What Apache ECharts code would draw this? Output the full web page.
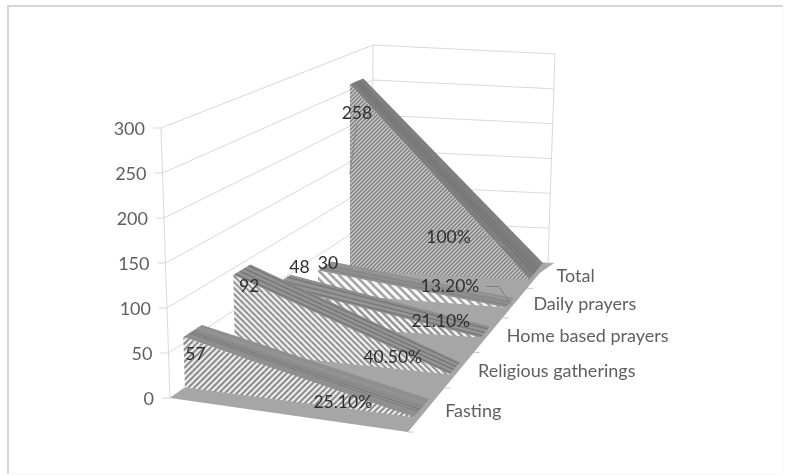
<!DOCTYPE html>
<html><head><meta charset="utf-8">
<script src="https://cdn.jsdelivr.net/npm/echarts@6/dist/echarts.min.js"></script>
<style>html,body{margin:0;padding:0;background:#fff}#c{width:786px;height:476px;filter:blur(0.55px)}</style>
</head><body><div id="c"></div>
<script>
// ---- data
const categories = ['Fasting', 'Religious gatherings', 'Home based prayers', 'Daily prayers', 'Total'];
const counts = [57, 92, 48, 30, 258];
const shares = [25.1, 40.5, 21.1, 13.2, 100];
const countLabels = ['57', '92', '48', '30', '258'];
const shareLabels = ['25.10%', '40.50%', '21.10%', '13.20%', '100%'];
const yTicks = [0, 50, 100, 150, 200, 250, 300];

// ---- 3D box layout (pixels of the projected floor and walls)
const corners = { A: [170, 398], B: [408, 432], C: [548, 263], D: [372, 255] };
const heights = { A: 270, B: 270, C: 209, D: 210 };
const lean = { A: -9, B: 0, C: 7, D: 1 };
// depth of each area band along the left and right floor edges
const frontL = [.074, .322, .52, .733, .891], backL = [.165, .406, .60, .80, .955];
const frontR = [.083, .337, .556, .734, .90], backR = [.19, .408, .62, .79, .995];
const AREA_END = .975; // the areas stop just short of the floor's right edge
const catTicks = [0, .26, .47, .675, .85, 1];
const catMid = [.13, .365, .57, .76, .925];
const countOff = [[12, 17], [16, 11], [25, -18], [10, -7], [7, 29]];
const shareOff = [[-71, -15], [-57, -17], [-40, -16], [-56, -21], [-81, -42]];
// hatch: [period, stroke share, dark colour, light colour, direction]
const hatch = [
  [6, .5, '#8e8e8e', '#eeeeee', 1], [6, .5, '#969696', '#f0f0f0', -1],
  [7, .5, '#969696', '#f4f4f4', -1], [8, .45, '#a3a3a3', '#fafafa', -1], [4, .55, '#808080', '#cccccc', 1]];
const ridgeBase = ['#8f8f8f', '#8c8c8c', '#8e8e8e', '#909090', '#7f7f7f'];
const streaks = [
  [[.3, '#7c7c7c'], [.42, '#767676'], [.55, '#838383'], [.75, '#9a9a9a']],
  [[.12, '#737373'], [.25, '#9c9c9c'], [.38, '#707070'], [.5, '#9a9a9a'], [.62, '#707070'], [.75, '#989898'], [.88, '#737373']],
  [[.15, '#727272'], [.3, '#9c9c9c'], [.45, '#747474'], [.6, '#9a9a9a'], [.78, '#727272']],
  [[.25, '#7f7f7f'], [.55, '#848484'], [.8, '#9c9c9c']],
  [[.35, '#6e6e6e'], [.5, '#6a6a6a'], [.65, '#707070']]];
const FLOOR = '#a6a6a6', GRID = '#d9d9d9', AXIS_TEXT = '#5f5f5f', DATA_TEXT = '#2f2f2f';
const FONT = 'Lato, "Open Sans", sans-serif';

function tile(p) {
  const s = p[0], c = document.createElement('canvas');
  c.width = c.height = s;
  const g = c.getContext('2d');
  g.fillStyle = p[3]; g.fillRect(0, 0, s, s);
  g.strokeStyle = p[2]; g.lineWidth = s * p[1] * Math.SQRT1_2;
  for (let k = -1; k <= 1; k++) {
    g.beginPath();
    if (p[4] > 0) { g.moveTo(k * s - 2, s + 2); g.lineTo(k * s + s + 2, -2); }
    else { g.moveTo(k * s - 2, -2); g.lineTo(k * s + s + 2, s + 2); }
    g.stroke();
  }
  return { image: c, repeat: 'repeat' };
}
const patterns = hatch.map(tile);

function bil(a, b, c, d, u, t) { // a front-left, b front-right, c back-right, d back-left
  return (a * (1 - u) + b * u) * (1 - t) + (d * (1 - u) + c * u) * t;
}
function project(u, t, f) {
  const { A, B, C, D } = corners;
  return [
    bil(A[0], B[0], C[0], D[0], u, t) + f * bil(lean.A, lean.B, lean.C, lean.D, u, t),
    bil(A[1], B[1], C[1], D[1], u, t) - f * bil(heights.A, heights.B, heights.C, heights.D, u, t)
  ];
}
// scale readers: data value -> share of axis, through the chart's own axes
function fracOf(api, v) {
  const y0 = api.coord([0, 0])[1], y1 = api.coord([0, 300])[1];
  return (y0 - api.coord([0, v])[1]) / (y0 - y1);
}
function uOf(api, x) {
  const x0 = api.coord([0, 0])[0], x1 = api.coord([1, 0])[0];
  return (api.coord([x, 0])[0] - x0) / (x1 - x0);
}
const line = (pts, color, w, z) => ({ type: 'polyline', shape: { points: pts }, style: { stroke: color, lineWidth: w || 1, fill: null }, silent: true, z2: z || 0 });
const poly = (pts, fill) => ({ type: 'polygon', shape: { points: pts }, style: { fill: fill }, silent: true });
const text = (x, y, s, color, align, size) => ({ type: 'text', x: x, y: y, style: { text: s, fill: color, font: size + 'px ' + FONT, align: align || 'center', verticalAlign: 'middle' }, silent: true, z2: 5 });

function renderWalls(params, api) {
  const ch = [];
  const u0 = uOf(api, 0), u1 = uOf(api, 1);
  yTicks.forEach(v => {
    const f = fracOf(api, v);
    ch.push(line([project(u0, 0, f), project(u0, 1, f), project(u1, 1, f)], GRID));
    const p = project(u0, 0, f);
    ch.push(line([[p[0] - 8, p[1]], p], GRID));
    ch.push(text(p[0] - 16, p[1] + 1, String(v), AXIS_TEXT, 'right', 18));
  });
  [[u0, 0], [u0, 1], [u1, 1]].forEach(q => ch.push(line([project(q[0], q[1], 0), project(q[0], q[1], 1)], GRID)));
  const fl = [project(u0, 0, 0), project(u1, 0, 0), project(u1, 1, 0), project(u0, 1, 0)];
  ch.push(poly(fl, FLOOR));
  const tip = project(u1, 1, 0);
  ch.push(poly([[tip[0] - 14, tip[1] + 14], tip, [tip[0] + 6, tip[1]]], FLOOR));
  catTicks.forEach(t => { const p = project(u1, t, 0); ch.push(line([p, [p[0] + 6, p[1]]], '#c9c9c9')); });
  categories.forEach((c, i) => { const p = project(u1, catMid[i], 0); ch.push(text(p[0] + 19, p[1] + 1, c, AXIS_TEXT, 'left', 18)); });
  return { type: 'group', children: ch };
}

function renderArea(i) {
  return function (params, api) {
    const f0 = fracOf(api, api.value(0)), f1 = fracOf(api, api.value(1));
    const u0 = uOf(api, 0), u1 = uOf(api, AREA_END);
    const ch = [];
    const lerp = (a, b, k) => a + (b - a) * k;
    const tl = k => lerp(frontL[i], backL[i], k), tr = k => lerp(frontR[i], backR[i], k);
    ch.push(poly([project(u0, tl(0), f0), project(u0, tl(1), f0), project(u1, tr(1), f1), project(u1, tr(0), f1)], ridgeBase[i]));
    streaks[i].forEach(s => ch.push(line([project(u0, tl(s[0]), f0), project(u1, tr(s[0]), f1)], s[1], 1)));
    ch.push(poly([project(u0, tl(0), 0), project(u1, tr(0), 0), project(u1, tr(0), f1), project(u0, tl(0), f0)], patterns[i]));
    const a = project(u0, tl(0), f0), b = project(u1, tr(0), f1);
    const cl = [a[0] + countOff[i][0], a[1] + countOff[i][1]];
    const sl = [b[0] + shareOff[i][0], b[1] + shareOff[i][1]];
    if (i === 4) {
      ch.push(line([[cl[0], cl[1] + 9], [a[0], a[1] + 90]], '#8a8a8a'));
      ch.push(line([[sl[0] + 27, sl[1]], [sl[0] + 41, sl[1]], [sl[0] + 57, sl[1] + 10]], '#9a9a9a'));
    }
    if (i === 3) ch.push(line([[sl[0] + 36, sl[1]], [sl[0] + 49, sl[1]], [b[0] + 5, b[1] - 3]], '#7d7d7d'));
    ch.push(text(cl[0], cl[1], countLabels[i], DATA_TEXT, 'center', 17.5));
    ch.push(text(sl[0], sl[1], shareLabels[i], DATA_TEXT, 'center', 17.5));
    return { type: 'group', children: ch };
  };
}

const areaSeries = categories.map((c, i) => ({
  name: c, type: 'custom', coordinateSystem: 'cartesian2d', clip: false,
  z: 10 + (categories.length - i),
  renderItem: renderArea(i),
  encode: { x: 0, y: 1 },
  data: [[counts[i], shares[i] / 100]]
}));

const chart = echarts.init(document.getElementById('c'), null, { renderer: 'canvas' });
chart.setOption({
  animation: false,
  backgroundColor: '#fff',
  grid: { left: 170, top: 128, width: 238, height: 270 },
  xAxis: { type: 'value', min: 0, max: 1, show: false },
  yAxis: { type: 'value', min: 0, max: 300, interval: 50, show: false },
  graphic: [
    { type: 'polyline', shape: { points: [[8, 474], [8, 6], [783, 6]] }, style: { stroke: '#d6d6d6', lineWidth: 2, fill: null }, silent: true },
    { type: 'polyline', shape: { points: [[783, 6], [783, 474], [8, 474]] }, style: { stroke: '#f6f6f6', lineWidth: 1, fill: null }, silent: true }
  ],
  series: [{ name: 'walls', type: 'custom', coordinateSystem: 'cartesian2d', clip: false, z: 2, renderItem: renderWalls, encode: { x: 0, y: 1 }, data: [[0, 0]] }].concat(areaSeries)
});
</script></body></html>
